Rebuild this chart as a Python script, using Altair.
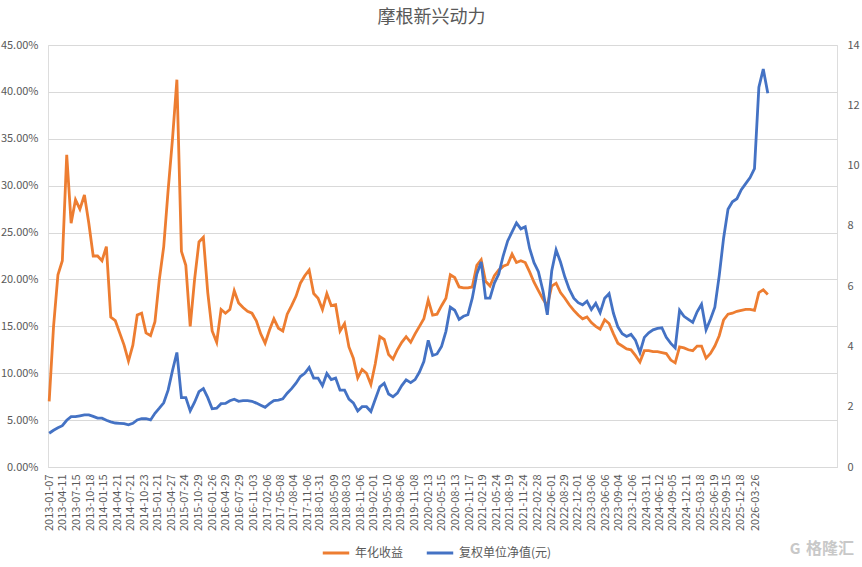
import altair as alt
import pandas as pd

SERIES = ["年化收益", "复权单位净值(元)"]
COLORS = ["#ED7D31", "#4472C4"]
FONT = "Noto Sans CJK SC"
GREY = "#595959"

TICK_DATES = [
    "2013-01-07", "2013-04-11", "2013-07-15", "2013-10-18", "2014-01-15", "2014-04-21",
    "2014-07-21", "2014-10-23", "2015-01-21", "2015-04-27", "2015-07-24", "2015-10-29",
    "2016-01-26", "2016-04-29", "2016-07-29", "2016-11-03", "2017-02-06", "2017-05-08",
    "2017-08-04", "2017-11-06", "2018-01-31", "2018-05-09", "2018-08-03", "2018-11-06",
    "2019-02-01", "2019-05-10", "2019-08-06", "2019-11-08", "2020-02-13", "2020-05-15",
    "2020-08-13", "2020-11-17", "2021-02-19", "2021-05-24", "2021-08-19", "2021-11-24",
    "2022-02-28", "2022-06-01", "2022-08-29", "2022-12-01", "2023-03-06", "2023-06-06",
    "2023-09-04", "2023-12-06", "2024-03-11", "2024-06-12", "2024-09-05", "2024-12-11",
    "2025-03-18", "2025-06-19", "2025-09-15", "2025-12-18", "2026-03-26",
]

# sampling dates: roughly every 30 days from the first to the last observation
FIRST_DATE, LAST_DATE = "2013-01-08", "2026-06-21"

# 年化收益 (%)
annual_2013 = [7.0, 15.0, 20.5, 22.0, 33.3, 26.0, 28.5, 27.5, 29.0, 26.0, 22.5, 22.5]
annual_2014 = [22.0, 23.5, 16.0, 15.6, 14.3, 13.0, 11.3, 13.0, 16.2, 16.4, 14.3, 14.0]
annual_2015 = [15.5, 20.0, 23.5, 29.5, 35.0, 41.3, 23.0, 21.5, 15.0, 20.0, 24.0, 24.5]
annual_2016 = [18.6, 14.5, 13.3, 16.8, 16.4, 16.8, 18.8, 17.5, 17.0, 16.6, 16.4, 15.6]
annual_2017 = [14.2, 13.2, 14.6, 15.8, 14.8, 14.5, 16.3, 17.2, 18.2, 19.6, 20.4, 21.0]
annual_2018 = [18.5, 18.0, 16.8, 18.5, 17.2, 17.3, 14.5, 15.3, 12.8, 11.6, 9.5, 10.4]
annual_2019 = [10.0, 8.8, 11.0, 13.9, 13.6, 12.0, 11.5, 12.5, 13.3, 13.9, 13.3, 14.2]
annual_2020 = [15.0, 15.8, 17.8, 16.2, 16.3, 17.2, 18.0, 20.5, 20.2, 19.2, 19.1, 19.1]
annual_2021 = [19.2, 21.5, 22.1, 19.8, 19.3, 20.4, 21.0, 21.4, 21.6, 22.7, 21.8, 22.0]
annual_2022 = [21.8, 20.8, 19.7, 18.8, 17.9, 17.2, 19.3, 19.6, 18.6, 18.0, 17.3, 16.7]
annual_2023 = [16.2, 15.8, 16.0, 15.4, 15.0, 14.7, 15.7, 15.3, 14.2, 13.2, 12.9, 12.6]
annual_2024 = [12.5, 11.9, 11.2, 12.4, 12.4, 12.3, 12.3, 12.2, 12.1, 11.4, 11.1, 12.8]
annual_2025 = [12.7, 12.5, 12.4, 12.9, 12.9, 11.6, 12.1, 12.9, 14.0, 15.7, 16.3, 16.4]
annual_2026 = [16.6, 16.7, 16.8, 16.8, 16.7, 18.6, 18.9, 18.4]

# 复权单位净值(元)
nav_2013 = [1.12, 1.22, 1.30, 1.37, 1.55, 1.67, 1.67, 1.70, 1.73, 1.73, 1.68, 1.62]
nav_2014 = [1.62, 1.55, 1.50, 1.46, 1.45, 1.44, 1.40, 1.45, 1.56, 1.60, 1.60, 1.56]
nav_2015 = [1.78, 1.95, 2.13, 2.55, 3.20, 3.80, 2.30, 2.30, 1.86, 2.15, 2.50, 2.60]
nav_2016 = [2.30, 1.93, 1.95, 2.10, 2.11, 2.20, 2.25, 2.18, 2.20, 2.20, 2.18, 2.12]
nav_2017 = [2.05, 1.98, 2.10, 2.20, 2.22, 2.26, 2.45, 2.60, 2.78, 3.00, 3.11, 3.30]
nav_2018 = [2.95, 2.95, 2.70, 3.10, 2.90, 2.95, 2.55, 2.55, 2.25, 2.13, 1.86, 2.00]
nav_2019 = [2.00, 1.84, 2.25, 2.66, 2.78, 2.42, 2.33, 2.45, 2.70, 2.89, 2.80, 2.90]
nav_2020 = [3.15, 3.50, 4.20, 3.70, 3.75, 4.00, 4.50, 5.30, 5.20, 4.90, 5.00, 5.05]
nav_2021 = [5.60, 6.40, 6.80, 5.60, 5.60, 6.10, 6.40, 7.00, 7.50, 7.80, 8.10, 7.90]
nav_2022 = [7.97, 7.25, 6.78, 6.48, 5.85, 5.05, 6.50, 7.20, 6.80, 6.30, 5.90, 5.60]
nav_2023 = [5.45, 5.38, 5.50, 5.22, 5.43, 5.12, 5.60, 5.75, 5.10, 4.65, 4.42, 4.33]
nav_2024 = [4.40, 4.21, 3.80, 4.30, 4.45, 4.55, 4.60, 4.62, 4.30, 4.10, 3.95, 5.20]
nav_2025 = [5.00, 4.90, 4.80, 5.15, 5.40, 4.55, 4.90, 5.30, 6.35, 7.60, 8.55, 8.80]
nav_2026 = [8.90, 9.20, 9.40, 9.60, 9.90, 12.60, 13.20, 12.40]

annual = (annual_2013 + annual_2014 + annual_2015 + annual_2016 + annual_2017 + annual_2018
          + annual_2019 + annual_2020 + annual_2021 + annual_2022 + annual_2023 + annual_2024
          + annual_2025 + annual_2026)
nav = (nav_2013 + nav_2014 + nav_2015 + nav_2016 + nav_2017 + nav_2018 + nav_2019
       + nav_2020 + nav_2021 + nav_2022 + nav_2023 + nav_2024 + nav_2025 + nav_2026)

dates = pd.date_range(FIRST_DATE, LAST_DATE, periods=len(annual)).strftime("%Y-%m-%d")

df_annual = pd.DataFrame({"date": dates, "value": annual, "series": SERIES[0]})
df_nav = pd.DataFrame({"date": dates, "value": nav, "series": SERIES[1]})


def dt(s):
    return alt.DateTime(year=int(s[:4]), month=int(s[5:7]), date=int(s[8:10]), utc=True)


x_enc = alt.X(
    "date:T",
    scale=alt.Scale(type="utc", domain=[dt("2012-12-31"), dt("2027-10-07")]),
    axis=alt.Axis(
        values=[dt(d) for d in TICK_DATES],
        format="%Y-%m-%d",
        labelAngle=270,
        labelOverlap=False,
        labelFlush=False,
        ticks=False,
        grid=False,
        domain=True,
        domainColor="#d9d9d9",
        labelPadding=7,
        labelFontSize=11,
        labelColor=GREY,
        labelFont=FONT,
        title=None,
    ),
)

color_enc = alt.Color(
    "series:N",
    scale=alt.Scale(domain=SERIES, range=COLORS),
    legend=alt.Legend(
        orient="none",
        legendX=273,
        legendY=493,
        direction="horizontal",
        title=None,
        symbolType="stroke",
        symbolStrokeWidth=3,
        symbolSize=700,
        labelFontSize=12,
        labelColor=GREY,
        labelFont=FONT,
        labelOffset=4,
        columnPadding=16,
        padding=0,
    ),
)

left = alt.Chart(df_annual).mark_line(strokeWidth=2.8).encode(
    x=x_enc,
    y=alt.Y(
        "value:Q",
        scale=alt.Scale(domain=[0, 45], nice=False, zero=True),
        axis=alt.Axis(
            orient="left",
            values=list(range(0, 50, 5)),
            labelExpr="format(datum.value, '.2f') + '%'",
            grid=True,
            gridColor="#d9d9d9",
            gridWidth=1,
            domain=False,
            ticks=False,
            labelPadding=10,
            labelFontSize=11,
            labelColor=GREY,
            labelFont=FONT,
            title=None,
        ),
    ),
    color=color_enc,
)

right = alt.Chart(df_nav).mark_line(strokeWidth=2.8).encode(
    x=x_enc,
    y=alt.Y(
        "value:Q",
        scale=alt.Scale(domain=[0, 14], nice=False, zero=True),
        axis=alt.Axis(
            orient="right",
            values=list(range(0, 16, 2)),
            grid=False,
            domain=False,
            ticks=False,
            labelPadding=10,
            labelFontSize=11,
            labelColor=GREY,
            labelFont=FONT,
            title=None,
        ),
    ),
    color=color_enc,
)

watermark = alt.Chart(pd.DataFrame({"t": ["格隆汇"]})).mark_text(
    font=FONT, fontSize=16, fontWeight="bold", color="#c8c8c8", align="left", baseline="middle"
).encode(text="t:N", x=alt.value(758), y=alt.value(504))

wm_logo = alt.Chart(pd.DataFrame({"t": ["G"]})).mark_text(
    font=FONT, fontSize=15, fontWeight="bold", color="#c8c8c8", align="center", baseline="middle"
).encode(text="t:N", x=alt.value(747), y=alt.value(504))

chart = (
    alt.layer(left, right, watermark, wm_logo)
    .resolve_scale(y="independent")
    .properties(
        width=789,
        height=422,
        autosize=alt.AutoSizeParams(type="none"),
        padding={"left": 48, "top": 45, "right": 25, "bottom": 100},
        title=alt.TitleParams(
            "摩根新兴动力",
            fontSize=18,
            fontWeight="normal",
            color=GREY,
            font=FONT,
            anchor="middle",
            offset=12,
            dx=-11,
        ),
    )
    .configure_view(stroke=None)
    .configure(background="white")
)

chart.save("out.html", embed_options={"renderer": "svg", "actions": False})
